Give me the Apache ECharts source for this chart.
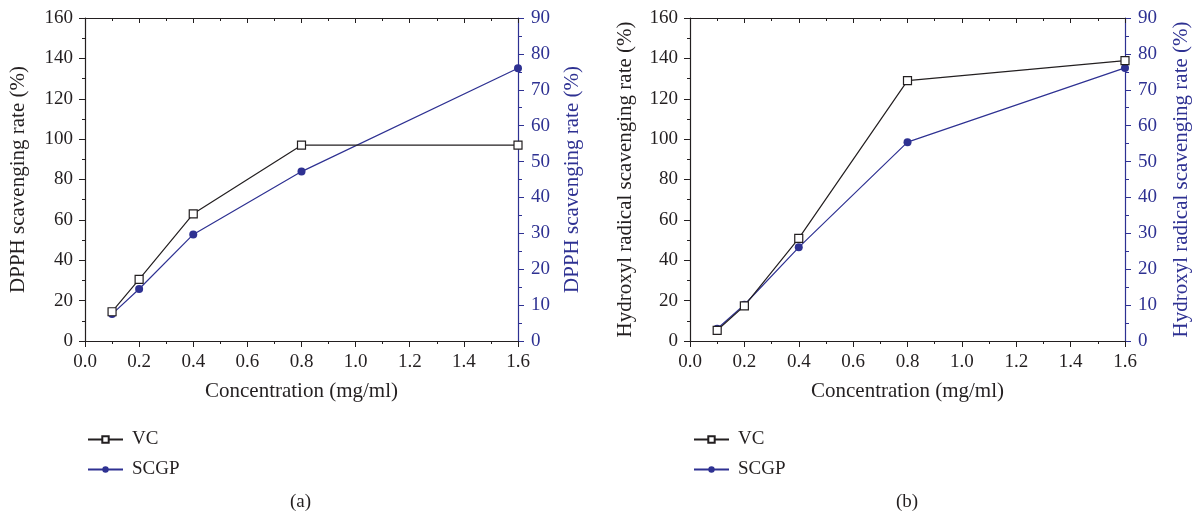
<!DOCTYPE html>
<html><head><meta charset="utf-8">
<script src="https://cdn.jsdelivr.net/npm/echarts@6/dist/echarts.min.js"></script>
<style>html,body{margin:0;padding:0;background:#fff}#c{width:1196px;height:519px}</style>
</head><body><div id="c"></div>
<script>
const concentration = [0.1, 0.2, 0.4, 0.8, 1.6];
const dpphVC = [14.5, 30.5, 63, 97, 97];
const dpphSCGP = [7.5, 14.5, 29.7, 47.2, 76];
const hydroxylVC = [5.3, 17.4, 50.8, 129, 138.9];
const hydroxylSCGP = [3.4, 10.1, 26.1, 55.4, 76.1];
const panelLabels = ['(a)', '(b)'];
const leftNames = ['DPPH scavenging rate (%)', 'Hydroxyl radical scavenging rate (%)'];
const rightNames = ['DPPH scavenging rate (%)', 'Hydroxyl radical scavenging rate (%)'];
const xName = 'Concentration (mg/ml)';

const FONT = 'Liberation Serif';
const BLACK = '#231f20';
const BLUE = '#2e3192';
const FS = 19;
const NFS = 21;

const grids = [
  {left: 85, right: 678, top: 18, bottom: 178},
  {left: 690, right: 71, top: 18, bottom: 178}
];

const xAxes = [], yAxes = [], series = [];
grids.forEach((g, i) => {
  xAxes.push({
    type: 'value', gridIndex: i, min: 0, max: 1.6, interval: 0.2, position: 'bottom',
    name: xName, nameLocation: 'middle', nameGap: 40,
    nameTextStyle: {fontFamily: FONT, fontSize: NFS, color: BLACK},
    axisLine: {show: true, onZero: false, lineStyle: {color: BLACK, width: 1.2}},
    axisTick: {show: true, inside: false, length: 6, lineStyle: {color: BLACK}},
    minorTick: {show: true, splitNumber: 2, length: 3, lineStyle: {color: BLACK}},
    axisLabel: {fontFamily: FONT, fontSize: FS, color: BLACK, margin: 12, formatter: v => v.toFixed(1)},
    splitLine: {show: false}
  });
  xAxes.push({
    type: 'value', gridIndex: i, min: 0, max: 1.6, interval: 0.2, position: 'top',
    axisLine: {show: true, onZero: false, lineStyle: {color: BLACK, width: 1.2}},
    axisTick: {show: true, inside: true, length: 5, lineStyle: {color: BLACK}},
    minorTick: {show: true, splitNumber: 2, length: 3, lineStyle: {color: BLACK}},
    axisLabel: {show: false},
    splitLine: {show: false}
  });
  yAxes.push({
    type: 'value', gridIndex: i, min: 0, max: 160, interval: 20, position: 'left',
    name: leftNames[i], nameLocation: 'middle', nameGap: i === 0 ? 56 : 54,
    nameTextStyle: {fontFamily: FONT, fontSize: NFS, color: BLACK},
    axisLine: {show: true, onZero: false, lineStyle: {color: BLACK, width: 1.2}},
    axisTick: {show: true, inside: false, length: 6, lineStyle: {color: BLACK}},
    minorTick: {show: true, splitNumber: 2, length: 3, lineStyle: {color: BLACK}},
    axisLabel: {fontFamily: FONT, fontSize: FS, color: BLACK, margin: 12},
    splitLine: {show: false}
  });
  yAxes.push({
    type: 'value', gridIndex: i, min: 0, max: 90, interval: 10, position: 'right',
    name: rightNames[i], nameLocation: 'middle', nameGap: i === 0 ? 44 : 46, nameRotate: 90,
    nameTextStyle: {fontFamily: FONT, fontSize: NFS, color: BLUE},
    axisLine: {show: true, onZero: false, lineStyle: {color: BLUE, width: 1.2}},
    axisTick: {show: true, inside: false, length: 6, lineStyle: {color: BLUE}},
    minorTick: {show: true, splitNumber: 2, length: 4, lineStyle: {color: BLUE}},
    axisLabel: {fontFamily: FONT, fontSize: FS, color: BLUE, margin: 13},
    splitLine: {show: false}
  });
});

const vcSets = [dpphVC, hydroxylVC];
const scgpSets = [dpphSCGP, hydroxylSCGP];
[0, 1].forEach(i => {
  series.push({
    name: 'VC', type: 'line', xAxisIndex: i * 2, yAxisIndex: i * 2,
    data: concentration.map((x, k) => [x, vcSets[i][k]]),
    symbol: 'rect', symbolSize: 8, showAllSymbol: true,
    lineStyle: {color: BLACK, width: 1.2},
    itemStyle: {color: '#fff', borderColor: BLACK, borderWidth: 1.2},
    z: 3, animation: false
  });
  series.push({
    name: 'SCGP', type: 'line', xAxisIndex: i * 2, yAxisIndex: i * 2 + 1,
    data: concentration.map((x, k) => [x, scgpSets[i][k]]),
    symbol: 'circle', symbolSize: 8, showAllSymbol: true,
    lineStyle: {color: BLUE, width: 1.2},
    itemStyle: {color: BLUE, borderColor: BLUE, borderWidth: 0},
    z: 2, animation: false
  });
});

const legendCommon = {
  orient: 'vertical', top: 425, itemWidth: 35, itemHeight: 8, itemGap: 11,
  data: ['VC', 'SCGP'],
  textStyle: {fontFamily: FONT, fontSize: FS, color: BLACK, padding: [0, 0, 0, 4]},
  selectedMode: false
};

const chart = echarts.init(document.getElementById('c'));
chart.setOption({
  backgroundColor: '#fff',
  animation: false,
  grid: grids,
  xAxis: xAxes,
  yAxis: yAxes,
  series: series,
  legend: [
    Object.assign({left: 82}, legendCommon),
    Object.assign({left: 688}, legendCommon)
  ],
  graphic: [
    {type: 'text', left: 290, top: 493, style: {text: panelLabels[0], font: FS + 'px "' + FONT + '"', fill: BLACK}},
    {type: 'text', left: 896, top: 493, style: {text: panelLabels[1], font: FS + 'px "' + FONT + '"', fill: BLACK}}
  ]
});
</script></body></html>
